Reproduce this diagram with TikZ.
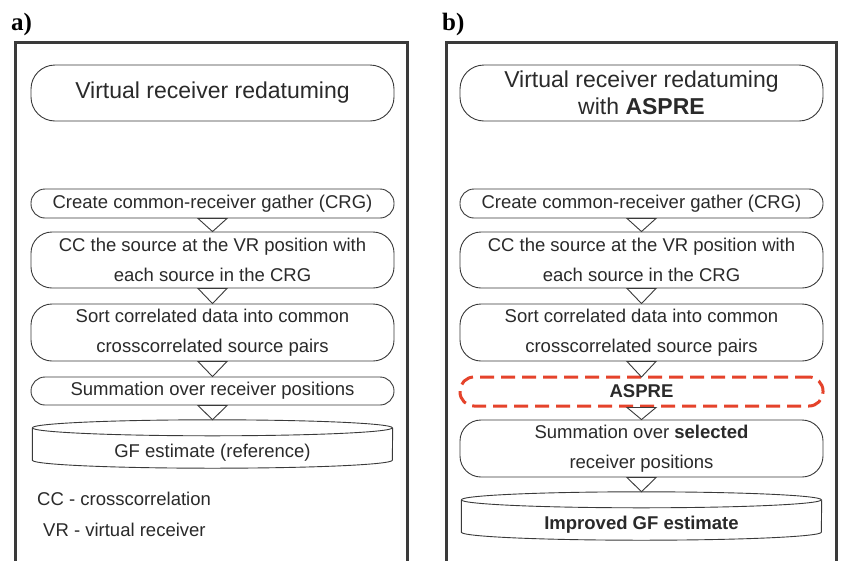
\documentclass[tikz,border=0pt]{standalone}
\usepackage{fontspec}
\setmainfont{Liberation Sans}
\newfontfamily\labelfont{Liberation Serif}
\definecolor{lineg}{HTML}{3A3A3A}
\definecolor{textg}{HTML}{2A2A2A}
\definecolor{aspred}{HTML}{E5432B}
\begin{document}
\begin{tikzpicture}[x=1pt,y=1pt,
  frame/.style={draw=lineg,line width=3pt},
  flowbox/.style={draw=lineg,line width=0.9pt,rounded corners=21pt,minimum width=363pt,inner sep=0pt,align=center,text=textg,font=\fontsize{18.5}{30}\selectfont},
  shortbox/.style={flowbox,rounded corners=14pt},
  titlebox/.style={flowbox,minimum height=56pt,rounded corners=24pt,font=\fontsize{23}{27}\selectfont},
  aspbox/.style={shortbox,draw=aspred,line width=3pt,dash pattern=on 14pt off 7pt},
  cylnode/.style={minimum width=360pt,inner sep=0pt,align=center,text=textg,font=\fontsize{18.5}{22}\selectfont},
  tri/.style={draw=lineg,line width=0.9pt,fill=white,line join=miter},
  cylline/.style={draw=lineg,line width=0.9pt},
  legend/.style={anchor=west,inner sep=0pt,text=textg,font=\fontsize{18.5}{22}\selectfont},
  panellabel/.style={anchor=base west,inner sep=0pt,font=\labelfont\bfseries\fontsize{25}{25}\selectfont}
]
\useasboundingbox (0,0) rectangle (843,-560);
\fill[white] (0,0) rectangle (843,-560);

% panel labels
\node[panellabel] (la) at (11,-30) {a)};
\node[panellabel] (lb) at (442,-30) {b)};

% frames
\draw[frame] (15,-562) -- (15,-42) -- (407,-42) -- (407,-562);
\draw[frame] (446.5,-562) -- (446.5,-42) -- (836.5,-42) -- (836.5,-562);

% ---------- panel a ----------
\node[titlebox] (ta) at (212.5,-93) {Virtual receiver redatuming};
\node[shortbox,minimum height=29pt] (ca) at (212.5,-203.5) {Create common-receiver gather (CRG)};
\node[flowbox,minimum height=56pt] (cca) at (212.5,-260) {CC the source at the VR position with\\each source in the CRG};
\node[flowbox,minimum height=57pt] (sa) at (212.5,-332.5) {Sort correlated data into common\\crosscorrelated source pairs};
\node[shortbox,minimum height=28pt] (suma) at (212.5,-391) {Summation over receiver positions};
\node[cylnode,minimum height=48pt] (gfa) at (212.5,-444) {};
\draw[cylline] ([yshift=-8pt]gfa.north west) arc[start angle=180,end angle=-180,x radius=180pt,y radius=8pt];
\draw[cylline] ([yshift=-8pt]gfa.north west) -- ([yshift=8pt]gfa.south west)
  arc[start angle=180,end angle=360,x radius=180pt,y radius=8pt] -- ([yshift=-8pt]gfa.north east);
\node[cylnode] (gfat) at (212.5,-453) {GF estimate (reference)};
\node[legend] (lcc) at (37,-499) {CC - crosscorrelation};
\node[legend] (lvr) at (43,-530) {VR - virtual receiver};

\draw[tri] ([xshift=-14.5pt]ca.south) -- (cca.north) -- ([xshift=14.5pt]ca.south) -- cycle;
\draw[tri] ([xshift=-14.5pt]cca.south) -- (sa.north) -- ([xshift=14.5pt]cca.south) -- cycle;
\draw[tri] ([xshift=-14.5pt]sa.south) -- (suma.north) -- ([xshift=14.5pt]sa.south) -- cycle;
\draw[tri] ([xshift=-14.5pt]suma.south) -- (gfa.north) -- ([xshift=14.5pt]suma.south) -- cycle;

% ---------- panel b ----------
\node[titlebox] (tb) at (641.5,-93) {Virtual receiver redatuming\\with \textbf{ASPRE}};
\node[shortbox,minimum height=29pt] (cb) at (641.5,-203.5) {Create common-receiver gather (CRG)};
\node[flowbox,minimum height=56pt] (ccb) at (641.5,-260) {CC the source at the VR position with\\each source in the CRG};
\node[flowbox,minimum height=57pt] (sb) at (641.5,-332.5) {Sort correlated data into common\\crosscorrelated source pairs};
\node[aspbox,minimum height=29pt] (asp) at (641.5,-391.5) {\textbf{ASPRE}};
\node[flowbox,minimum height=57pt] (sumb) at (641.5,-448.5) {Summation over \textbf{selected}\\receiver positions};
\node[cylnode,minimum height=48pt] (gfb) at (641.5,-516) {};
\draw[cylline] ([yshift=-8pt]gfb.north west) arc[start angle=180,end angle=-180,x radius=180pt,y radius=8pt];
\draw[cylline] ([yshift=-8pt]gfb.north west) -- ([yshift=8pt]gfb.south west)
  arc[start angle=180,end angle=360,x radius=180pt,y radius=8pt] -- ([yshift=-8pt]gfb.north east);
\node[cylnode] (gfbt) at (641.5,-525) {\textbf{Improved GF estimate}};

\draw[tri] ([xshift=-14.5pt]cb.south) -- (ccb.north) -- ([xshift=14.5pt]cb.south) -- cycle;
\draw[tri] ([xshift=-14.5pt]ccb.south) -- (sb.north) -- ([xshift=14.5pt]ccb.south) -- cycle;
\draw[tri] ([xshift=-14.5pt]sb.south) -- ([yshift=-1.5pt]asp.north) -- ([xshift=14.5pt]sb.south) -- cycle;
\draw[tri] ([xshift=-14.5pt]asp.south) -- (sumb.north) -- ([xshift=14.5pt]asp.south) -- cycle;
\draw[tri] ([xshift=-14.5pt]sumb.south) -- (gfb.north) -- ([xshift=14.5pt]sumb.south) -- cycle;
\end{tikzpicture}
\end{document}
